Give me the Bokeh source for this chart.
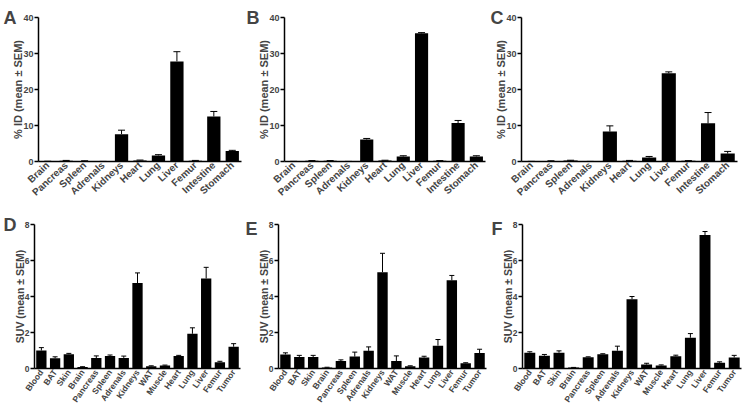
from bokeh.plotting import figure
from bokeh.models import (ColumnDataSource, FactorRange, Range1d, FixedTicker,
                          Whisker, TeeHead, LinearAxis)
from bokeh.layouts import column, row
from bokeh.embed import file_html
from bokeh.resources import INLINE

# ---------------- data ----------------
organs_id = ["Brain", "Pancreas", "Spleen", "Adrenals", "Kidneys", "Heart",
             "Lung", "Liver", "Femur", "Intestine", "Stomach"]
a_mean = [0.05, 0.2, 0.15, 0.02, 7.6, 0.3, 1.7, 27.8, 0.2, 12.5, 2.9]
a_sem = [0.02, 0.1, 0.05, 0.01, 1.1, 0.1, 0.2, 2.7, 0.1, 1.4, 0.2]
b_mean = [0.03, 0.2, 0.2, 0.02, 6.1, 0.3, 1.4, 35.6, 0.2, 10.7, 1.4]
b_sem = [0.01, 0.05, 0.05, 0.01, 0.3, 0.05, 0.2, 0.2, 0.05, 0.7, 0.2]
c_mean = [0.03, 0.15, 0.25, 0.02, 8.3, 0.2, 1.1, 24.5, 0.2, 10.6, 2.2]
c_sem = [0.01, 0.05, 0.1, 0.01, 1.6, 0.1, 0.3, 0.4, 0.05, 3.0, 0.6]

organs_suv = ["Blood", "BAT", "Skin", "Brain", "Pancreas", "Spleen", "Adrenals",
              "Kidneys", "WAT", "Muscle", "Heart", "Lung", "Liver", "Femur", "Tumor"]
d_mean = [1.0, 0.57, 0.79, 0.08, 0.58, 0.70, 0.59, 4.75, 0.12, 0.16, 0.70, 1.93, 5.0, 0.35, 1.21]
d_sem = [0.16, 0.08, 0.05, 0.02, 0.12, 0.05, 0.1, 0.56, 0.03, 0.03, 0.03, 0.33, 0.62, 0.05, 0.17]
e_mean = [0.78, 0.64, 0.64, 0.05, 0.41, 0.66, 0.98, 5.35, 0.41, 0.13, 0.61, 1.27, 4.9, 0.29, 0.86]
e_sem = [0.09, 0.09, 0.09, 0.02, 0.07, 0.25, 0.22, 1.05, 0.29, 0.02, 0.07, 0.34, 0.27, 0.03, 0.21]
f_mean = [0.88, 0.71, 0.88, 0.05, 0.63, 0.79, 0.99, 3.85, 0.22, 0.17, 0.68, 1.71, 7.41, 0.32, 0.61]
f_sem = [0.05, 0.07, 0.1, 0.01, 0.02, 0.03, 0.25, 0.15, 0.07, 0.03, 0.06, 0.23, 0.2, 0.05, 0.12]

id_ticks = [0, 10, 20, 30, 40]
suv_ticks = [0, 2, 4, 6, 8]
id_label = "% ID (mean ± SEM)"
suv_label = "SUV (mean ± SEM)"
panel_letters = ["A", "B", "C", "D", "E", "F"]

FONT = "Liberation Sans"


def panel(letter, cats, mean, sem, ticks, ylabel, w, h, R, T, B,
          letter_standoff, letter_pos, bar_w, cap, tick_fs, cat_fs, lab_fs, angle):
    upper = [m + s for m, s in zip(mean, sem)]
    src = ColumnDataSource(dict(x=cats, top=mean, lower=mean, upper=upper))
    p = figure(width=w, height=h, x_range=FactorRange(factors=cats),
               y_range=Range1d(ticks[0], ticks[-1]),
               output_backend="svg", toolbar_location=None,
               min_border_left=0, min_border_right=R,
               min_border_top=T, min_border_bottom=B)
    p.outline_line_color = None
    p.xgrid.grid_line_color = None
    p.ygrid.grid_line_color = None
    p.background_fill_color = "white"
    p.vbar(x="x", top="top", width=bar_w, source=src,
           fill_color="black", line_color=None)
    wk = Whisker(base="x", upper="upper", lower="lower", source=src,
                 line_color="black", line_width=1,
                 upper_head=TeeHead(size=cap, line_color="black", line_width=1),
                 lower_head=None)
    p.add_layout(wk)

    ya = p.yaxis[0]
    ya.ticker = FixedTicker(ticks=ticks)
    ya.minor_tick_line_color = None
    ya.major_tick_out = 4
    ya.major_tick_in = 0
    ya.axis_line_width = 1.5
    ya.major_tick_line_width = 1.5
    ya.major_label_text_font = FONT
    ya.major_label_text_font_size = tick_fs
    ya.major_label_text_font_style = "bold"
    ya.major_label_standoff = 1
    ya.axis_label = ylabel
    ya.axis_label_text_font = FONT
    ya.axis_label_text_font_size = lab_fs
    ya.axis_label_text_font_style = "bold"
    ya.axis_label_standoff = -4

    xa = p.xaxis[0]
    xa.axis_label = None
    xa.axis_label_standoff = 0
    xa.major_tick_out = 0
    xa.major_tick_in = 0
    xa.minor_tick_out = 0
    xa.minor_tick_line_color = None
    xa.axis_line_width = 1.5
    xa.major_label_orientation = angle
    xa.major_label_text_font = FONT
    xa.major_label_text_font_size = cat_fs
    xa.major_label_text_font_style = "bold"
    xa.major_label_standoff = 2

    # panel letter, drawn as the single label of an outer, invisible axis
    p.extra_y_ranges = {"letter": Range1d(0, 1)}
    la = LinearAxis(y_range_name="letter",
                    ticker=FixedTicker(ticks=[letter_pos]),
                    major_label_overrides={letter_pos: letter},
                    axis_line_color=None, major_tick_line_color=None,
                    minor_tick_line_color=None, major_tick_out=0, major_tick_in=0,
                    minor_tick_out=0,
                    major_label_text_font=FONT, major_label_text_font_size="18px",
                    major_label_text_font_style="bold",
                    major_label_standoff=letter_standoff, axis_label=None)
    p.add_layout(la, "left")
    return p


top_kw = dict(bar_w=0.72, cap=7, tick_fs="9px", cat_fs="10px", lab_fs="11px", angle=0.75)
bot_kw = dict(bar_w=0.75, cap=5, tick_fs="8.5px", cat_fs="8.5px", lab_fs="10.5px", angle=0.95)

pa = panel(panel_letters[0], organs_id, a_mean, a_sem, id_ticks, id_label, 243, 207, 2, 17, 45, -7, 1.0, **top_kw)
pb = panel(panel_letters[1], organs_id, b_mean, b_sem, id_ticks, id_label, 244, 207, 2, 15, 45, -4, 1.0, **top_kw)
pc = panel(panel_letters[2], organs_id, c_mean, c_sem, id_ticks, id_label, 258, 207, 8, 12, 46, -11, 1.0, **top_kw)
pd = panel(panel_letters[3], organs_suv, d_mean, d_sem, suv_ticks, suv_label, 242, 207, 2, 17, 45, -6, 1.0, **bot_kw)
pe = panel(panel_letters[4], organs_suv, e_mean, e_sem, suv_ticks, suv_label, 246, 207, 2, 13, 45, -3, 0.966, **bot_kw)
pf = panel(panel_letters[5], organs_suv, f_mean, f_sem, suv_ticks, suv_label, 257, 207, 4, 13, 46, -4, 0.97, **bot_kw)

layout = column(row(pa, pb, pc), row(pd, pe, pf))

open("out.html", "w").write(file_html(layout, INLINE))
